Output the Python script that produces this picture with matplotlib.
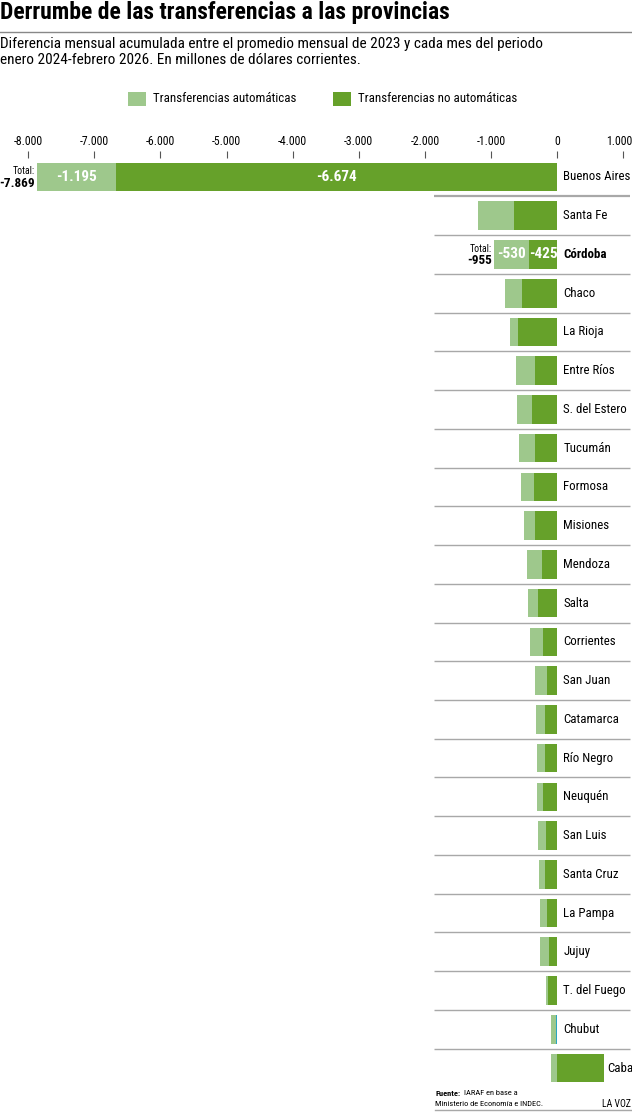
import matplotlib
matplotlib.use("Agg")
import matplotlib.pyplot as plt
from matplotlib.patches import Rectangle
from matplotlib.lines import Line2D
from matplotlib.transforms import ScaledTranslation

# ---------------- Daten ----------------
provincias = ["Buenos Aires", "Santa Fe", "Córdoba", "Chaco", "La Rioja", "Entre Ríos",
              "S. del Estero", "Tucumán", "Formosa", "Misiones", "Mendoza", "Salta",
              "Corrientes", "San Juan", "Catamarca", "Río Negro", "Neuquén", "San Luis",
              "Santa Cruz", "La Pampa", "Jujuy", "T. del Fuego", "Chubut", "Caba"]
automaticas = [-1195, -545, -530, -268, -121, -282, -217, -237, -207, -166, -222, -152,
               -197, -177, -141, -131, -86, -121, -85, -106, -146, -40, -80, -90]
no_automaticas = [-6674, -650, -425, -524, -585, -338, -383, -333, -343, -333, -232, -282,
                  -217, -151, -182, -177, -217, -166, -187, -156, -116, -131, -16, 711]
ticks = [-8000, -7000, -6000, -5000, -4000, -3000, -2000, -1000, 0, 1000]
destacadas = ["Buenos Aires", "Córdoba"]

# ---------------- Stil ----------------
plt.rcParams["font.family"] = ["Roboto Condensed", "DejaVu Sans"]

verde_claro = "#9ec88c"
verde_oscuro = "#66a12a"
celeste = "#2aa5c0"
gris = "#a8a8a8"

W, H = 632, 1112


def px(x, y):
    return x / W, 1 - y / H


def fmt(v):
    return f"{v:,}".replace(",", ".")


fig = plt.figure(figsize=(W / 100, H / 100), dpi=100)

# 0 liegt bei Pixel 557, 66.1 px pro 1000
escala = 66.1 / 1000
x_min = -557 / escala
x_max = (W - 557) / escala
top, bottom = 157.6, 1087.4
ax = fig.add_axes([0, 1 - bottom / H, 1, (bottom - top) / H])
ax.set_xlim(x_min, x_max)
ax.set_ylim(len(provincias) - 0.5, -0.5)

for i, (prov, a, n) in enumerate(zip(provincias, automaticas, no_automaticas)):
    color_n = celeste if prov == "Chubut" else verde_oscuro
    ax.barh(i, n, left=0, height=0.74, color=color_n, linewidth=0)
    ax.barh(i, a, left=min(n, 0), height=0.74, color=verde_claro, linewidth=0)
    fin = max(n, 0)
    ax.annotate(prov, (fin, i), xytext=(4.5 if fin == 0 else 2.5, 0), textcoords="offset points",
                ha="left", va="center", fontsize=9.3,
                fontweight="bold" if prov == "Córdoba" else "normal")
    if prov in destacadas:
        izq = a + n
        ax.text(n + a / 2, i, fmt(a), ha="center", va="center", color="white",
                fontsize=11, fontweight="bold")
        ax.text(n / 2, i, fmt(n), ha="center", va="center", color="white",
                fontsize=11, fontweight="bold")
        ax.annotate("Total:", (izq, i), xytext=(-1.5, 4), textcoords="offset points",
                    ha="right", va="center", fontsize=7)
        ax.annotate(fmt(izq), (izq, i), xytext=(-1.5, -4.5), textcoords="offset points",
                    ha="right", va="center", fontsize=9.5, fontweight="bold")

# Trennlinien
for i in range(len(provincias) - 1):
    ax.plot([-1861, 1104], [i + 0.5, i + 0.5], color=gris,
            linewidth=1.6 if i == 0 else 1.0, solid_capstyle="butt")

ax.xaxis.tick_top()
ax.set_xticks(ticks)
ax.set_xticklabels([fmt(t) for t in ticks], fontsize=8.5)
ax.tick_params(axis="x", length=5, width=0.8, color="#555555", pad=2)
ax.set_yticks([])
for s in ax.spines.values():
    s.set_visible(False)
# letzte Beschriftung etwas nach links, damit sie nicht abgeschnitten wird
ultimo = ax.xaxis.get_major_ticks()[-1].label2
ultimo.set_transform(ultimo.get_transform() + ScaledTranslation(-3.5 / 100, 0, fig.dpi_scale_trans))

# ---------------- Titel ----------------
fig.text(*px(0, 12), "Derrumbe de las transferencias a las provincias",
         fontsize=17, fontweight="bold", va="center", ha="left")
fig.add_artist(Line2D([0, 1], [1 - 32 / H] * 2, color="#888888", linewidth=1))
fig.text(*px(0, 44), "Diferencia mensual acumulada entre el promedio mensual de 2023 y cada mes del periodo",
         fontsize=11, va="center", ha="left")
fig.text(*px(0, 59.5), "enero 2024-febrero 2026. En millones de dólares corrientes.",
         fontsize=11, va="center", ha="left")

# Legende
for x0, texto, color in [(128, "Transferencias automáticas", verde_claro),
                         (333, "Transferencias no automáticas", verde_oscuro)]:
    fig.add_artist(Rectangle(px(x0, 106), 18 / W, 14 / H, color=color, linewidth=0))
    fig.text(*px(x0 + 25, 99), texto, fontsize=9.3, va="center", ha="left")

# Fuente
fig.text(*px(435, 1093), "Fuente:", fontsize=6, fontweight="bold", va="center")
fig.text(*px(464, 1093), "IARAF en base a", fontsize=6, va="center")
fig.text(*px(435, 1104), "Ministerio de Economía e INDEC.", fontsize=6, va="center")
fig.text(*px(631, 1104), "LA VOZ", fontsize=7, va="center", ha="right")
fig.add_artist(Line2D([435 / W, 1], [1 - 1110 / H] * 2, color=gris, linewidth=1))

fig.savefig("out.png", dpi=100)
